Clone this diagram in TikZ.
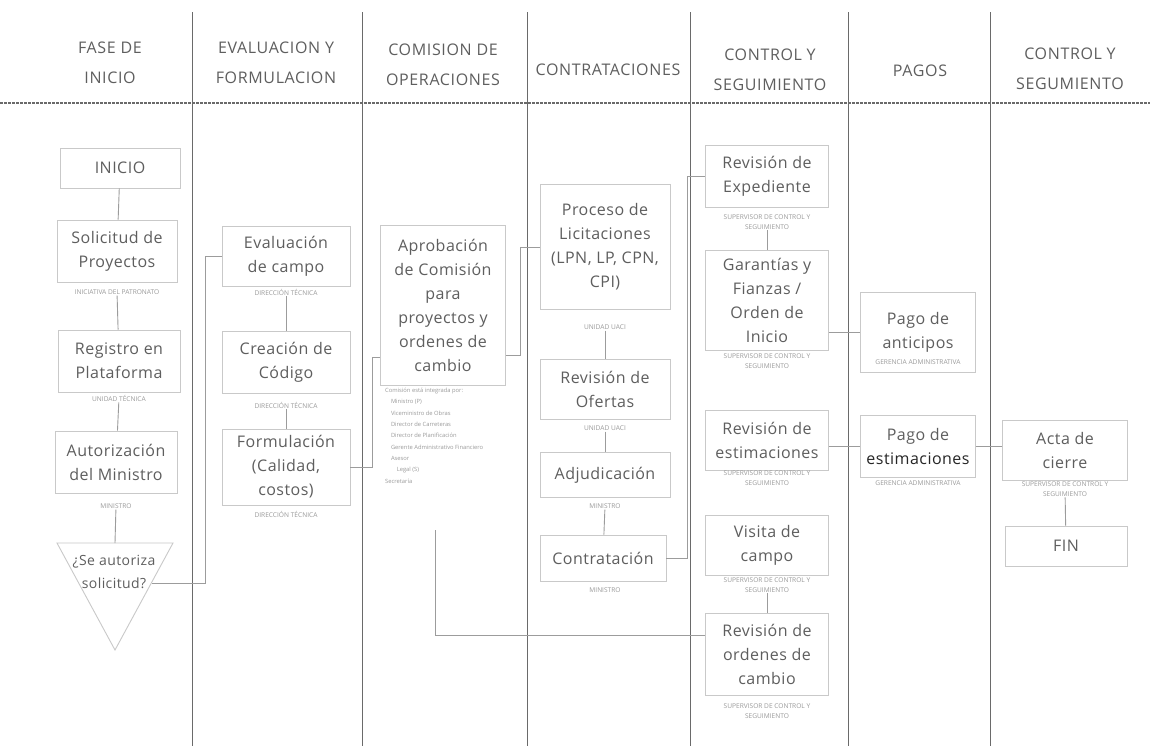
\documentclass[tikz,border=0pt]{standalone}
\usepackage{fontspec}
\setmainfont{Open Sans}
\newfontfamily\boxfont[LetterSpace=3]{Open Sans}
\newfontfamily\hdrfont[LetterSpace=4]{Open Sans}
\definecolor{txt}{HTML}{5E5E5E}
\definecolor{subc}{HTML}{9A9A9A}
\definecolor{boxc}{HTML}{C9C9C9}
\definecolor{lane}{HTML}{6A6A6A}
\definecolor{conc}{HTML}{9C9C9C}
\tikzset{
  box/.style={draw=boxc, line width=0.9pt, align=center, text=txt, inner sep=0pt,
    font=\boxfont\fontsize{16}{24}\selectfont},
  sub/.style={align=center, text=subc, inner sep=1pt, font=\fontsize{6.6}{9.5}\selectfont},
  hdr/.style={align=center, text=txt, font=\hdrfont\fontsize{16}{30}\selectfont},
  conn/.style={draw=conc, line width=0.9pt},
  laneline/.style={draw=lane, line width=1pt},
}
\begin{document}
\begin{tikzpicture}[x=1pt,y=-1pt]
\useasboundingbox (0,0) rectangle (1150,750);
\fill[white] (0,0) rectangle (1150,750);
% lanes
\foreach \lx in {192,362,527,690,848,990}{\draw[laneline] (\lx,12) -- (\lx,746);}
\draw[draw=lane, line width=1.1pt, dash pattern=on 3pt off 1pt] (0,103) -- (1150,103);
% headers
\node[hdr] (h1) at (110,63) {FASE DE\\INICIO};
\node[hdr] (h2) at (276,63) {EVALUACION Y\\FORMULACION};
\node[hdr] (h3) at (443,65) {COMISION DE\\OPERACIONES};
\node[hdr] (h4) at (608,70) {CONTRATACIONES};
\node[hdr] (h5) at (770,70) {CONTROL Y\\SEGUIMIENTO};
\node[hdr] (h6) at (920,71) {PAGOS};
\node[hdr] (h7) at (1070,69) {CONTROL Y\\SEGUMIENTO};
% column 1
\node[box, minimum width=120, minimum height=40] (inicio) at (120,168) {INICIO};
\node[box, minimum width=120, minimum height=62] (solic) at (117,251) {Solicitud de\\Proyectos};
\node[sub] (solics) at (117,292) {INICIATIVA DEL PATRONATO};
\node[box, minimum width=122, minimum height=62] (regis) at (119,361) {Registro en\\Plataforma};
\node[sub] (regiss) at (119,398) {UNIDAD TÉCNICA};
\node[box, minimum width=122, minimum height=62] (autor) at (116,462) {Autorización\\del Ministro};
\node[sub] (autors) at (116,506) {MINISTRO};
\draw[draw=boxc, line width=0.9pt] (57,543) -- (173,543) -- (115,650) -- cycle;
\coordinate (triTop) at (115,543);
\node[align=center, text=txt, font=\boxfont\fontsize{14}{23}\selectfont] (dec) at (114,572) {¿Se autoriza\\solicitud?};
\coordinate (decR) at (152,583);
% column 2
\node[box, minimum width=128, minimum height=60] (eval) at (286,256) {Evaluación\\de campo};
\node[sub] (evals) at (286,292) {DIRECCIÓN TÉCNICA};
\node[box, minimum width=128, minimum height=62] (crea) at (286,362) {Creación de\\Código};
\node[sub] (creas) at (286,405) {DIRECCIÓN TÉCNICA};
\node[box, minimum width=128, minimum height=76] (form) at (286,467) {Formulación\\(Calidad,\\costos)};
\node[sub] (forms) at (286,514) {DIRECCIÓN TÉCNICA};
% column 3
\node[box, minimum width=125, minimum height=160] (aprob) at (443,305) {Aprobación\\de Comisión\\para\\proyectos y\\ordenes de\\cambio};
\node[anchor=north west, align=left, text=subc, inner sep=0pt, font=\fontsize{5.8}{11.3}\selectfont] (lst) at (385,388)
 {Comisión está integrada por:\\
  \quad Ministro (P)\\
  \quad Viceministro de Obras\\
  \quad Director de Carreteras\\
  \quad Director de Planificación\\
  \quad Gerente Administrativo Financiero\\
  \quad Asesor\\
  \qquad Legal (S)\\
  Secretaría};
\coordinate (lstB) at (435,530);
% column 4
\node[box, minimum width=130, minimum height=125] (proc) at (605,247) {Proceso de\\Licitaciones\\(LPN, LP, CPN,\\CPI)};
\node[sub] (procs) at (605,327) {UNIDAD UACI};
\node[box, minimum width=130, minimum height=60] (ofer) at (605,389) {Revisión de\\Ofertas};
\node[sub] (ofers) at (605,428) {UNIDAD UACI};
\node[box, minimum width=130, minimum height=45] (adju) at (605,475) {Adjudicación};
\node[sub] (adjus) at (605,506) {MINISTRO};
\node[box, minimum width=126, minimum height=46] (contr) at (603,558) {Contratación};
\node[sub] (contrs) at (605,590) {MINISTRO};
% column 5
\node[box, minimum width=123, minimum height=62] (rexp) at (767,176) {Revisión de\\Expediente};
\node[sub] (rexps) at (767,222) {SUPERVISOR DE CONTROL Y\\SEGUIMIENTO};
\node[box, minimum width=123, minimum height=100] (gar) at (767,300) {Garantías y\\Fianzas /\\Orden de\\Inicio};
\node[sub] (gars) at (767,361) {SUPERVISOR DE CONTROL Y\\SEGUIMIENTO};
\node[box, minimum width=123, minimum height=60] (rest) at (767,440) {Revisión de\\estimaciones};
\node[sub] (rests) at (767,478) {SUPERVISOR DE CONTROL Y\\SEGUIMIENTO};
\node[box, minimum width=123, minimum height=60] (visita) at (767,545) {Visita de\\campo};
\node[sub] (visitas) at (767,585) {SUPERVISOR DE CONTROL Y\\SEGUIMIENTO};
\node[box, minimum width=123, minimum height=82] (rord) at (767,654) {Revisión de\\ordenes de\\cambio};
\node[sub] (rords) at (767,711) {SUPERVISOR DE CONTROL Y\\SEGUIMIENTO};
% column 6
\node[box, minimum width=115, minimum height=80] (pant) at (918,332) {Pago de\\anticipos};
\node[sub] (pants) at (918,362) {GERENCIA ADMINISTRATIVA};
\node[box, minimum width=115, minimum height=62] (pest) at (918,446) {Pago de\\\textcolor{black!85}{estimaciones}};
\node[sub] (pests) at (918,483) {GERENCIA ADMINISTRATIVA};
% column 7
\node[box, minimum width=125, minimum height=60] (acta) at (1065,450) {Acta de\\cierre};
\node[sub] (actas) at (1065,489) {SUPERVISOR DE CONTROL Y\\SEGUIMIENTO};
\node[box, minimum width=122, minimum height=40] (fin) at (1066,546) {FIN};
% connectors
\draw[conn] (inicio) -- (solic);
\draw[conn] (solics) -- (regis);
\draw[conn] (regiss) -- (autor);
\draw[conn] (autors) -- (triTop);
\draw[conn] (decR) -- (205,583) |- (eval.west);
\draw[conn] (evals) -- (crea);
\draw[conn] (creas) -- (form);
\path (aprob.west) ++(0,52) coordinate (aprobIn);
\draw[conn] (form.east) -- ++(22,0) |- (aprobIn);
\path (aprob.east) ++(0,50) coordinate (aprobOut);
\draw[conn] (aprobOut) -- ++(14,0) |- (proc.west);
\draw[conn] (procs) -- (ofer);
\draw[conn] (ofers) -- (adju);
\draw[conn] (adjus) -- (contr);
\draw[conn] (contr.east) -- ++(21,0) |- (rexp.west);
\path (rord.west) ++(0,-19) coordinate (rordIn);
\draw[conn] (lstB) |- (rordIn);
\draw[conn] (rexps) -- (gar);
\draw[conn] (visitas) -- (rord);
\draw[conn] (pant.west -| gar.east) -- (pant.west);
\draw[conn] (pest.west -| rest.east) -- (pest.west);
\draw[conn] (pest.east) -- (pest.east -| acta.west);
\draw[conn] (actas) -- (fin);
\end{tikzpicture}
\end{document}
